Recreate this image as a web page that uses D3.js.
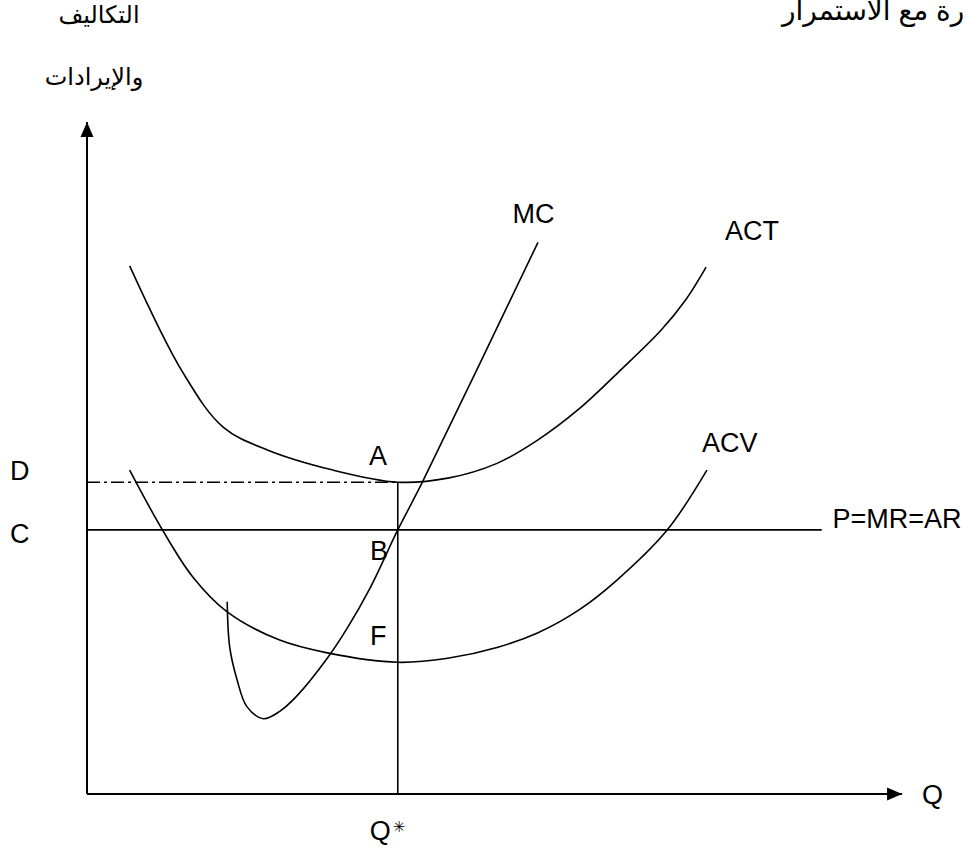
<!DOCTYPE html>
<html>
<head>
<meta charset="utf-8">
<script src="https://cdn.jsdelivr.net/npm/d3@7"></script>
<style>
body { margin: 0; background: #fff; }
svg { display: block; }
text { font-family: "Liberation Sans", Arial, "DejaVu Sans", sans-serif; fill: #000; }
</style>
</head>
<body>
<div id="chart"></div>
<script>
// points, [quantity, cost] on a 0..100 scale
var actPoints = [
	[5.2, 78.6], [11.7, 62.7], [16.6, 54.6], [22.0, 51.2], [30.0, 48.2],
	[37.9, 46.4], [44.0, 47.0], [50.0, 49.2], [55.0, 52.7], [60.0, 57.3],
	[65.0, 63.0], [70.0, 69.0], [73.0, 73.5], [75.5, 78.4]
];
var mcPoints = [
	[17.1, 28.6], [17.4, 21.9], [18.3, 17.0], [19.5, 13.0], [21.5, 11.2],
	[23.5, 12.3], [25.6, 14.6], [29.3, 20.2], [31.7, 24.6], [34.5, 30.6],
	[37.9, 39.3], [40.9, 46.4], [55.0, 82.1]
];
var acvPoints = [
	[5.2, 48.2], [9.2, 39.3], [12.9, 32.3], [17.1, 27.1], [23.5, 22.9],
	[29.3, 21.0], [37.9, 19.6], [44.0, 20.2], [50.0, 21.8], [55.0, 24.0],
	[60.0, 27.4], [64.6, 31.8], [70.7, 39.2], [75.6, 48.2]
];

var priceLevel = 39.3;   // C : P=MR=AR
var priceEnd = 89.6;
var dLevel = 46.4;       // D : minimum of ACT
var qStar = 37.9;
var xAxisEnd = 99.4,
	yAxisEnd = 100;

var width = 966,
	height = 851;

var x = d3.scaleLinear().domain([0, 100]).range([87, 907]);
var y = d3.scaleLinear().domain([0, 100]).range([794, 122]);

var svg = d3.select('#chart')
	.append('svg')
	.attr('width', width)
	.attr('height', height);

svg.append('defs').append('marker')
	.attr('id', 'arrow')
	.attr('markerUnits', 'userSpaceOnUse')
	.attr('viewBox', '-16 -7 17 14')
	.attr('markerWidth', 17)
	.attr('markerHeight', 14)
	.attr('refX', 0)
	.attr('refY', 0)
	.attr('orient', 'auto')
	.append('path')
	.attr('d', 'M0,0L-15,-6.5L-15,6.5Z')
	.attr('fill', '#000');

// axes
svg.append('line')
	.attr('x1', x(0)).attr('y1', y(0))
	.attr('x2', x(0)).attr('y2', y(yAxisEnd))
	.attr('stroke', '#000').attr('stroke-width', 2)
	.attr('marker-end', 'url(#arrow)');
svg.append('line')
	.attr('x1', x(0)).attr('y1', y(0))
	.attr('x2', x(xAxisEnd)).attr('y2', y(0))
	.attr('stroke', '#000').attr('stroke-width', 2)
	.attr('marker-end', 'url(#arrow)');

// price line, D line, Q* line
svg.append('line')
	.attr('x1', x(0)).attr('y1', y(priceLevel))
	.attr('x2', x(priceEnd)).attr('y2', y(priceLevel))
	.attr('stroke', '#000').attr('stroke-width', 1.6);
svg.append('line')
	.attr('x1', x(0)).attr('y1', y(dLevel))
	.attr('x2', x(qStar)).attr('y2', y(dLevel))
	.attr('stroke', '#000').attr('stroke-width', 1.6)
	.attr('stroke-dasharray', '13,4,3,4');
svg.append('line')
	.attr('x1', x(qStar)).attr('y1', y(0))
	.attr('x2', x(qStar)).attr('y2', y(dLevel))
	.attr('stroke', '#000').attr('stroke-width', 1.6);

// curves
var lineGenerator = d3.line()
	.x(d => x(d[0]))
	.y(d => y(d[1]))
	.curve(d3.curveCatmullRom.alpha(0.5));

[actPoints, mcPoints, acvPoints].forEach(pts => {
	svg.append('path')
		.attr('d', lineGenerator(pts))
		.attr('fill', 'none')
		.attr('stroke', '#000')
		.attr('stroke-width', 1.6);
});

// labels
function label(txt, px, py, size, anchor) {
	return svg.append('text')
		.attr('x', px)
		.attr('y', py)
		.attr('font-size', size)
		.attr('text-anchor', anchor || 'start')
		.text(txt);
}

label('MC', x(51.9), y(85.0), 27);
label('ACT', x(77.8), y(82.4), 27);
label('ACV', x(75.0), y(50.9), 27);
label('A', x(34.4), y(49.0), 27);
label('B', x(34.5), y(34.8), 27);
label('F', x(34.5), y(22.2), 27);
label('D', 10, y(dLevel) - 2, 27);
label('C', 10, y(priceLevel) + 13, 27);
label('P=MR=AR', x(90.9), y(priceLevel) - 2, 27);
label('Q', 922, y(0) + 10, 27);
label('Q', x(qStar) - 28, y(0) + 46, 27);
label('\u2733', x(qStar) - 5, y(0) + 38, 15);

label('التكاليف', 99, 23, 24, 'middle');
label('والإيرادات', 94, 85, 24, 'middle');
label('حالة الخسارة مع الاستمرار', 782, 20, 28);
</script>
</body>
</html>
